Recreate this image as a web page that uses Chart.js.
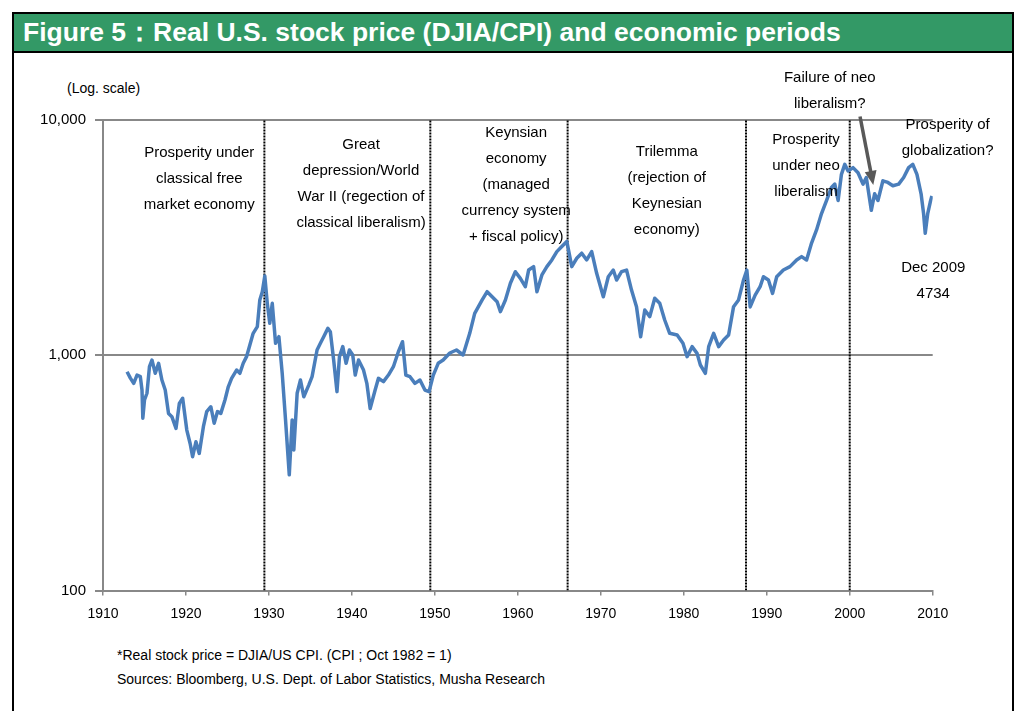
<!DOCTYPE html>
<html>
<head>
    <title>Real U.S. stock price (DJIA/CPI) and economic periods</title>
    <script src="https://cdn.jsdelivr.net/npm/chart.js"></script>
    <style>
        body { margin: 0; width: 1014px; height: 711px; overflow: hidden; background: #fff;
               font-family: Arial, "Liberation Sans", sans-serif; position: relative; }
        #frame { position: absolute; left: 12px; top: 12px; width: 1002px; height: 740px;
                 border: 2px solid #000; box-sizing: border-box; }
        #title { position: absolute; left: 0; top: 0; right: 0; height: 37px; line-height: 37px;
                 background: #339966; border-bottom: 2px solid #000; color: #fff;
                 font-weight: bold; font-size: 26.5px; padding-left: 9px; white-space: nowrap; }
        #chartBox { position: absolute; left: 0; top: 0; width: 1014px; height: 711px; }
        .note { position: absolute; left: 117px; font-size: 14px; color: #000; white-space: nowrap; }
        #logNote { position: absolute; left: 67px; top: 80px; font-size: 14px; color: #000; }
    </style>
</head>
<body>
    <div id="frame"><div id="title">Figure 5：Real U.S. stock price (DJIA/CPI) and economic periods</div></div>
    <div id="logNote">(Log. scale)</div>
    <div class="note" style="top:647px">*Real stock price = DJIA/US CPI. (CPI ; Oct 1982 = 1)</div>
    <div class="note" style="top:671px">Sources: Bloomberg, U.S. Dept. of Labor Statistics, Musha Research</div>
    <div id="chartBox"><canvas id="stockChart" width="1014" height="711"></canvas></div>
    <script>
        // real DJIA / CPI
        var years = [
            1912.9, 1913.3, 1913.7, 1914.1, 1914.5, 1914.7, 1914.8, 1915.0, 1915.3, 1915.6, 1915.9,
            1916.3, 1916.7, 1917.1, 1917.5, 1917.9, 1918.3, 1918.8, 1919.2, 1919.6, 1920.1, 1920.5,
            1920.8, 1921.2, 1921.6, 1922.1, 1922.5, 1923.0, 1923.4, 1923.8, 1924.2, 1924.7, 1925.1,
            1925.5, 1926.1, 1926.5, 1926.9, 1927.3, 1927.7, 1928.1, 1928.6, 1928.9, 1929.2, 1929.5,
            1929.8, 1930.1, 1930.4, 1930.8, 1931.2, 1931.6, 1932.0, 1932.45, 1932.8, 1933.0, 1933.4,
            1933.8, 1934.2, 1934.8, 1935.2, 1935.8, 1936.2, 1936.6, 1937.1, 1937.4, 1937.8, 1938.2,
            1938.5, 1938.9, 1939.3, 1939.7, 1940.1, 1940.4, 1940.8, 1941.4, 1941.8, 1942.2, 1942.8,
            1943.2, 1943.8, 1944.4, 1945.0, 1945.6, 1946.1, 1946.5, 1947.0, 1947.6, 1948.2, 1948.8,
            1949.3, 1949.8, 1950.4, 1951.0, 1951.8, 1952.6, 1953.4, 1954.2, 1954.8, 1955.7, 1956.3,
            1956.9, 1957.5, 1957.9, 1958.5, 1959.1, 1959.7, 1960.3, 1960.9, 1961.3, 1961.9, 1962.3,
            1962.9, 1963.5, 1964.1, 1964.7, 1965.3, 1965.9, 1966.5, 1967.1, 1967.7, 1968.3, 1968.9,
            1969.5, 1970.3, 1970.9, 1971.5, 1971.9, 1972.5, 1973.1, 1973.7, 1974.3, 1974.8, 1975.3,
            1975.9, 1976.5, 1977.1, 1977.7, 1978.3, 1979.2, 1979.9, 1980.4, 1981.0, 1981.6, 1982.0,
            1982.6, 1983.0, 1983.6, 1984.2, 1984.8, 1985.4, 1986.0, 1986.6, 1987.2, 1987.6, 1988.0,
            1988.6, 1989.2, 1989.6, 1990.2, 1990.7, 1991.2, 1992.0, 1992.8, 1993.6, 1994.2, 1994.8,
            1995.4, 1996.0, 1996.6, 1997.2, 1997.8, 1998.2, 1998.6, 1999.0, 1999.4, 1999.8, 2000.4,
            2001.0, 2001.6, 2002.0, 2002.6, 2003.0, 2003.4, 2004.0, 2004.6, 2005.2, 2005.9, 2006.5,
            2007.1, 2007.6, 2008.1, 2008.6, 2008.9, 2009.1, 2009.4, 2009.7, 2009.9
        ];
        var realPrice = [
            849, 798, 758, 822, 809, 710, 539, 644, 688, 892, 952,
            836, 922, 783, 710, 565, 547, 488, 623, 655, 480, 421,
            370, 428, 382, 496, 575, 603, 513, 575, 565, 644, 733,
            796, 863, 836, 922, 984, 1103, 1236, 1319, 1713, 1857, 2166,
            1657, 1363, 1657, 1121, 1196, 836, 530, 310, 530, 395, 688,
            783, 665, 745, 809, 1050, 1121, 1196, 1297, 1256, 952, 699,
            984, 1085, 922, 1050, 1000, 822, 952, 863, 758, 593, 710,
            796, 771, 822, 892, 1032, 1139, 822, 809, 758, 783, 710,
            699, 820, 922, 952, 1020, 1050, 1000, 1236, 1503, 1713, 1857,
            1767, 1683, 1528, 1713, 2018, 2258, 2116, 1950, 2295, 2373, 1857,
            2187, 2373, 2533, 2748, 2888, 3035, 2373, 2575, 2706, 2533, 2748,
            2222, 1767, 2150, 2295, 2082, 2258, 2295, 1887, 1604, 1196, 1552,
            1455, 1741, 1657, 1408, 1236, 1216, 1121, 984, 1085, 1016, 907,
            836, 1085, 1236, 1085, 1158, 1216, 1604, 1713, 2082, 2295, 1600,
            1796, 1950, 2150, 2082, 1827, 2150, 2295, 2373, 2533, 2617, 2533,
            2986, 3396, 3986, 4529, 5146, 5317, 4529, 5850, 6450, 6045, 6245,
            5938, 5317, 5670, 4115, 4838, 4529, 5492, 5403, 5230, 5317, 5670,
            6245, 6450, 5850, 4838, 3986, 3288, 3986, 4450, 4734
        ];
        var periodBreaks = [1929.45, 1949.45, 1966.0, 1987.5, 2000.0];
        var yTickValues = [100, 1000, 10000];

        // text in the plot, anchored in data units (year, value)
        var notes = [
            { lines: ['Prosperity under', 'classical free', 'market economy'], x: 1921.6, y: 7206 },
            { lines: ['Great', 'depression/World', 'War II (regection of', 'classical liberalism)'], x: 1941.1, y: 7794 },
            { lines: ['Keynsian', 'economy', '(managed', 'currency system', '+ fiscal policy)'], x: 1959.8, y: 8738 },
            { lines: ['Trilemma', '(rejection of', 'Keynesian', 'economy)'], x: 1977.95, y: 7300 },
            { lines: ['Prosperity', 'under neo', 'liberalism'], x: 1994.73, y: 8185 },
            { lines: ['Failure of neo', 'liberalism?'], x: 1997.6, y: 14962 },
            { lines: ['Prosperity of', 'globalization?'], x: 2011.8, y: 9475 },
            { lines: ['Dec 2009', '4734'], x: 2010.07, y: 2334 }
        ];
        var arrowFrom = { x: 2001.24, y: 10300 };
        var arrowTo = { x: 2002.84, y: 5272 };

        var series = years.map(function (yr, i) { return { x: yr, y: realPrice[i] }; });

        var datasets = [{
            data: series,
            borderColor: '#4a7ebb',
            borderWidth: 3.5,
            borderJoinStyle: 'round',
            pointRadius: 0,
            tension: 0,
            order: 0
        }];
        periodBreaks.forEach(function (b) {
            datasets.push({
                data: [{ x: b, y: 100 }, { x: b, y: 10000 }],
                borderColor: '#000',
                borderWidth: 2,
                borderDash: [2, 1],
                pointRadius: 0,
                order: 1
            });
        });

        var notesPlugin = {
            id: 'notes',
            afterDatasetsDraw: function (chart) {
                var ctx = chart.ctx;
                var xs = chart.scales.x, ys = chart.scales.y;
                ctx.save();
                ctx.fillStyle = '#000';
                ctx.font = '15px Arial, "Liberation Sans", sans-serif';
                ctx.textAlign = 'center';
                ctx.textBaseline = 'middle';
                notes.forEach(function (n) {
                    var px = xs.getPixelForValue(n.x), py = ys.getPixelForValue(n.y);
                    n.lines.forEach(function (t, i) { ctx.fillText(t, px, py + i * 26); });
                });
                // arrow to the 2002 dip
                var x1 = xs.getPixelForValue(arrowFrom.x), y1 = ys.getPixelForValue(arrowFrom.y);
                var x2 = xs.getPixelForValue(arrowTo.x), y2 = ys.getPixelForValue(arrowTo.y);
                var ang = Math.atan2(y2 - y1, x2 - x1);
                ctx.strokeStyle = '#595959';
                ctx.fillStyle = '#595959';
                ctx.lineWidth = 3.5;
                ctx.beginPath();
                ctx.moveTo(x1, y1);
                ctx.lineTo(x2 - 12 * Math.cos(ang), y2 - 12 * Math.sin(ang));
                ctx.stroke();
                ctx.beginPath();
                ctx.moveTo(x2, y2);
                ctx.lineTo(x2 - 14 * Math.cos(ang) + 6 * Math.sin(ang), y2 - 14 * Math.sin(ang) - 6 * Math.cos(ang));
                ctx.lineTo(x2 - 14 * Math.cos(ang) - 6 * Math.sin(ang), y2 - 14 * Math.sin(ang) + 6 * Math.cos(ang));
                ctx.closePath();
                ctx.fill();
                ctx.restore();
            }
        };

        var ctx = document.getElementById('stockChart').getContext('2d');
        var stockChart = new Chart(ctx, {
            type: 'line',
            data: { datasets: datasets },
            plugins: [notesPlugin],
            options: {
                responsive: false,
                animation: false,
                layout: { padding: { left: 0, top: 119.5, right: 81.3, bottom: 90.5 } },
                plugins: { legend: { display: false }, tooltip: { enabled: false } },
                scales: {
                    x: {
                        type: 'linear',
                        min: 1910,
                        max: 2010,
                        afterFit: function (s) { s.height = 30; },
                        ticks: {
                            stepSize: 10,
                            color: '#000',
                            padding: 10,
                            font: { family: 'Arial, "Liberation Sans", sans-serif', size: 14 },
                            callback: function (v) { return String(v); }
                        },
                        grid: { drawOnChartArea: false, color: '#888', lineWidth: 1.5, tickLength: 5 },
                        border: { color: '#888', width: 2 }
                    },
                    y: {
                        type: 'logarithmic',
                        min: 100,
                        max: 10000,
                        afterFit: function (s) { s.width = 103; },
                        afterBuildTicks: function (s) {
                            s.ticks = yTickValues.map(function (v) { return { value: v }; });
                        },
                        ticks: {
                            color: '#000',
                            padding: 9,
                            font: { family: 'Arial, "Liberation Sans", sans-serif', size: 15 },
                            callback: function (v) { return Number(v).toLocaleString('en-US'); }
                        },
                        grid: { color: '#888', lineWidth: 2, tickLength: 8 },
                        border: { color: '#888', width: 2 }
                    }
                }
            }
        });
    </script>
</body>
</html>
